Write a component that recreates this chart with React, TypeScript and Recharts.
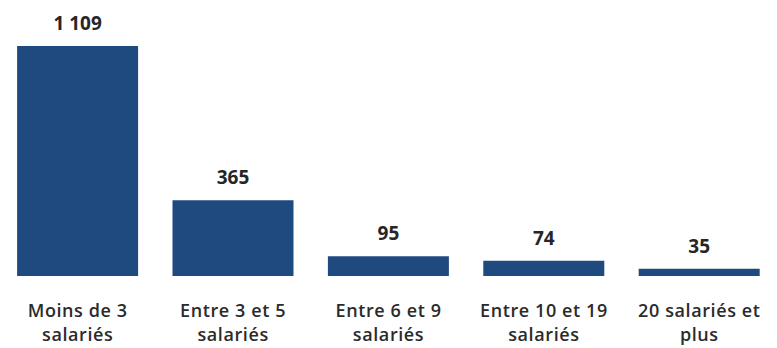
import { Bar, BarChart, LabelList, XAxis, YAxis } from "recharts";

const categories = [
  "Moins de 3|salariés",
  "Entre 3 et 5|salariés",
  "Entre 6 et 9|salariés",
  "Entre 10 et 19|salariés",
  "20 salariés et|plus",
];
const counts = [1109, 365, 95, 74, 35];

const data = categories.map((name, i) => ({ name, value: counts[i] }));

const fmt = (v: number) => v.toLocaleString("fr-FR").replace(/\u202f|\u00a0/g, " ");

function CategoryTick({ x, y, payload }: any) {
  const lines = String(payload.value).split("|");
  return (
    <g transform={`translate(${x},${y})`}>
      {lines.map((line, i) => (
        <text
          key={i}
          x={0}
          y={33 + i * 24}
          textAnchor="middle"
          fill="#2b2b2b"
          fontSize={18}
          fontWeight={600}
          letterSpacing={0.6}
          fontFamily="'Open Sans', sans-serif"
        >
          {line}
        </text>
      ))}
    </g>
  );
}

export default function App() {
  return (
    <div style={{ position: "absolute", left: 0, top: 0, width: 777, height: 348, background: "#fff" }}>
      <BarChart
        width={777}
        height={348}
        data={data}
        margin={{ top: 46, right: 0, bottom: 0, left: 0 }}
        barCategoryGap="11%"
      >
        <XAxis
          dataKey="name"
          axisLine={false}
          tickLine={false}
          height={72}
          interval={0}
          tick={<CategoryTick />}
        />
        <YAxis hide domain={[0, 1109]} />
        <Bar dataKey="value" fill="#1f4a80" isAnimationActive={false}>
          <LabelList
            dataKey="value"
            position="top"
            offset={16}
            formatter={(v: any) => fmt(Number(v))}
            fill="#262626"
            fontSize={19}
            fontWeight={700}
            fontFamily="'Open Sans', sans-serif"
          />
        </Bar>
      </BarChart>
    </div>
  );
}
